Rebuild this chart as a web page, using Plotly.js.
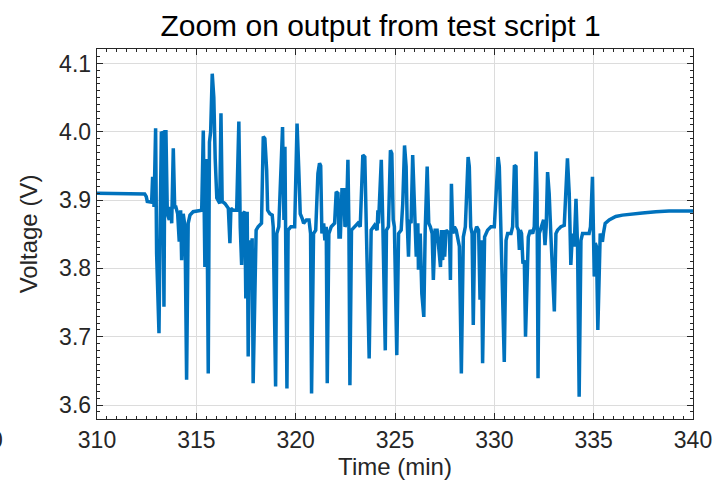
<!DOCTYPE html>
<html>
<head>
<meta charset="utf-8">
<script src="https://cdn.plot.ly/plotly-3.0.1.min.js"></script>
<style>
  html, body { margin: 0; padding: 0; background: #fff; }
  #chart { width: 728px; height: 480px; }
</style>
</head>
<body>
<div id="chart"></div>
<script>
// Time (min) and voltage (V)
const timeMin = [
  310.00, 311.20, 312.40, 312.48, 312.53, 312.75, 312.80, 312.87, 312.95, 313.00,
  313.12, 313.19, 313.24, 313.30, 313.37, 313.42, 313.47, 313.54, 313.64, 313.71,
  313.76, 313.84, 313.91, 313.97, 314.06, 314.14, 314.21, 314.26, 314.34, 314.43,
  314.51, 314.59, 314.68, 314.84, 315.10, 315.27, 315.35, 315.43, 315.52, 315.60,
  315.66, 315.72, 315.80, 315.88, 315.95, 316.03, 316.18, 316.24, 316.30, 316.44,
  316.61, 316.69, 316.74, 316.86, 317.03, 317.14, 317.21, 317.28, 317.34, 317.44,
  317.49, 317.56, 317.61, 317.68, 317.75, 317.81, 317.86, 317.95, 318.01, 318.11,
  318.28, 318.37, 318.45, 318.54, 318.59, 318.70, 318.82, 318.87, 318.99, 319.05,
  319.15, 319.34, 319.41, 319.46, 319.56, 319.62, 319.76, 319.95, 320.07, 320.15,
  320.23, 320.33, 320.40, 320.54, 320.67, 320.75, 320.80, 320.90, 321.01, 321.12,
  321.20, 321.26, 321.32, 321.41, 321.47, 321.54, 321.59, 321.67, 321.79, 321.96,
  322.04, 322.13, 322.18, 322.25, 322.33, 322.43, 322.48, 322.55, 322.63, 322.68,
  322.73, 322.81, 322.96, 323.13, 323.25, 323.38, 323.48, 323.55, 323.70, 323.80,
  323.97, 324.10, 324.14, 324.17, 324.31, 324.39, 324.51, 324.57, 324.67, 324.77,
  324.84, 324.91, 324.97, 325.09, 325.18, 325.31, 325.39, 325.48, 325.56, 325.61,
  325.68, 325.73, 325.81, 325.89, 325.98, 326.07, 326.15, 326.18, 326.27, 326.35,
  326.45, 326.52, 326.62, 326.70, 326.78, 326.87, 326.93, 327.02, 327.12, 327.19,
  327.29, 327.34, 327.40, 327.45, 327.50, 327.57, 327.74, 327.79, 327.84, 327.91,
  327.99, 328.08, 328.16, 328.24, 328.34, 328.44, 328.54, 328.61, 328.68, 328.74,
  328.81, 328.88, 328.94, 329.01, 329.11, 329.21, 329.28, 329.35, 329.41, 329.51,
  329.66, 329.83, 330.00, 330.09, 330.19, 330.25, 330.30, 330.37, 330.50, 330.59,
  330.67, 330.84, 330.92, 331.01, 331.09, 331.14, 331.21, 331.26, 331.31, 331.37,
  331.44, 331.51, 331.57, 331.64, 331.71, 331.81, 331.93, 332.01, 332.10, 332.15,
  332.20, 332.26, 332.38, 332.48, 332.55, 332.61, 332.68, 332.76, 332.85, 332.93,
  333.02, 333.10, 333.18, 333.35, 333.52, 333.68, 333.77, 333.85, 333.93, 334.02,
  334.11, 334.19, 334.27, 334.36, 334.44, 334.61, 334.77, 334.84, 334.94, 334.99,
  335.03, 335.08, 335.14, 335.21, 335.28, 335.33, 335.38, 335.44, 335.49, 335.58,
  335.78, 336.11, 336.45, 336.95, 337.45, 338.13, 338.79, 340.00
];
const voltageV = [
  3.910, 3.910, 3.909, 3.905, 3.898, 3.897, 3.934, 3.890, 4.005, 3.822,
  3.705, 3.890, 4.000, 3.998, 3.744, 4.000, 4.000, 3.880, 3.871, 3.890,
  3.866, 3.976, 3.890, 3.890, 3.880, 3.839, 3.885, 3.812, 3.880, 3.861,
  3.637, 3.866, 3.878, 3.883, 3.884, 3.885, 4.002, 3.802, 3.960, 3.646,
  3.985, 4.000, 4.085, 4.050, 3.960, 3.903, 3.895, 4.027, 3.898, 3.895,
  3.888, 3.837, 3.888, 3.885, 3.885, 4.015, 3.861, 3.805, 3.880, 3.883,
  3.756, 3.883, 3.671, 3.841, 3.802, 3.844, 3.632, 3.739, 3.856, 3.861,
  3.866, 3.993, 3.990, 3.944, 3.885, 3.880, 3.878, 3.861, 3.627, 3.851,
  3.861, 4.007, 3.871, 3.978, 3.624, 3.856, 3.861, 3.861, 4.012, 3.950,
  3.880, 3.873, 3.866, 3.871, 3.871, 3.851, 3.617, 3.851, 3.856, 3.939,
  3.954, 3.950, 3.851, 3.866, 3.841, 3.861, 3.632, 3.851, 3.861, 3.866,
  3.912, 3.910, 3.846, 3.846, 3.915, 3.915, 3.861, 3.866, 3.959, 3.861,
  3.629, 3.856, 3.861, 3.866, 3.861, 3.966, 3.963, 3.871, 3.668, 3.856,
  3.863, 3.856, 3.885, 3.866, 3.959, 3.861, 3.680, 3.856, 3.861, 3.973,
  3.968, 3.871, 3.861, 3.673, 3.851, 3.856, 3.895, 3.980, 3.949, 3.871,
  3.817, 3.871, 3.866, 3.966, 3.871, 3.817, 3.866, 3.798, 3.851, 3.763,
  3.729, 3.856, 3.949, 3.866, 3.861, 3.851, 3.783, 3.856, 3.856, 3.837,
  3.802, 3.856, 3.812, 3.856, 3.817, 3.856, 3.851, 3.783, 3.924, 3.851,
  3.861, 3.856, 3.846, 3.832, 3.646, 3.846, 3.861, 3.934, 3.963, 3.949,
  3.861, 3.851, 3.717, 3.851, 3.861, 3.856, 3.754, 3.841, 3.661, 3.846,
  3.856, 3.861, 3.861, 3.910, 3.963, 3.949, 3.871, 3.812, 3.663, 3.841,
  3.851, 3.851, 3.861, 3.951, 3.949, 3.861, 3.856, 3.827, 3.856, 3.851,
  3.807, 3.812, 3.700, 3.763, 3.846, 3.856, 3.851, 3.861, 3.971, 3.910,
  3.639, 3.851, 3.861, 3.871, 3.834, 3.861, 3.941, 3.910, 3.846, 3.788,
  3.737, 3.851, 3.856, 3.861, 3.863, 3.961, 3.910, 3.805, 3.851, 3.832,
  3.902, 3.832, 3.612, 3.841, 3.851, 3.851, 3.851, 3.861, 3.934, 3.851,
  3.788, 3.837, 3.832, 3.710, 3.832, 3.851, 3.846, 3.839, 3.851, 3.866,
  3.871, 3.876, 3.878, 3.880, 3.881, 3.883, 3.884, 3.884
];
const xTickValues = [310, 315, 320, 325, 330, 335, 340];
const yTickValues = [3.6, 3.7, 3.8, 3.9, 4.0, 4.1];
const chartTitle = 'Zoom on output from test script 1';
const xLabel = 'Time (min)';
const yLabel = 'Voltage (V)';

const FONT = 'Liberation Sans, Arial, Helvetica, sans-serif';
const AXIS_COLOR = '#262626';

const trace = {
  x: timeMin,
  y: voltageV,
  type: 'scatter',
  mode: 'lines',
  line: { color: '#0072BD', width: 3.5 },
  hoverinfo: 'skip'
};

const axisCommon = {
  showline: true,
  linecolor: AXIS_COLOR,
  linewidth: 1.3,
  mirror: 'allticks',
  ticks: 'inside',
  ticklen: 6,
  tickwidth: 1,
  tickcolor: AXIS_COLOR,
  showgrid: true,
  gridcolor: '#dcdcdc',
  gridwidth: 1,
  zeroline: false,
  tickfont: { family: FONT, size: 23, color: AXIS_COLOR }
};

const layout = {
  width: 728,
  height: 480,
  paper_bgcolor: '#ffffff',
  plot_bgcolor: '#ffffff',
  showlegend: false,
  margin: { l: 97, r: 35, t: 49, b: 61, pad: 0 },
  title: {
    text: chartTitle,
    font: { family: FONT, size: 30, color: '#000000' },
    xref: 'container', x: 0.5227, xanchor: 'center',
    yref: 'container', y: 0.946, yanchor: 'middle'
  },
  xaxis: Object.assign({}, axisCommon, {
    range: [310, 340],
    tickvals: xTickValues,
    ticktext: xTickValues.map(String),
    minor: { dtick: 0.5, ticks: 'inside', ticklen: 3, tickcolor: AXIS_COLOR, showgrid: false },
    title: { text: xLabel, font: { family: FONT, size: 24, color: AXIS_COLOR }, standoff: 4 }
  }),
  yaxis: Object.assign({}, axisCommon, {
    range: [3.5795, 4.1212],
    tickvals: yTickValues,
    ticktext: yTickValues.map(v => v.toFixed(1)),
    minor: { dtick: 0.01, ticks: 'inside', ticklen: 3, tickcolor: AXIS_COLOR, showgrid: false },
    title: { text: yLabel, font: { family: FONT, size: 24, color: AXIS_COLOR }, standoff: 14 }
  }),
  annotations: [{
    text: '0', xref: 'paper', yref: 'paper',
    x: (5 - 97) / 596.5, xanchor: 'right',
    y: -21 / 370, yanchor: 'middle',
    showarrow: false,
    font: { family: FONT, size: 23, color: AXIS_COLOR }
  }]
};

Plotly.newPlot('chart', [trace], layout, { displayModeBar: false, staticPlot: true });
</script>
</body>
</html>
